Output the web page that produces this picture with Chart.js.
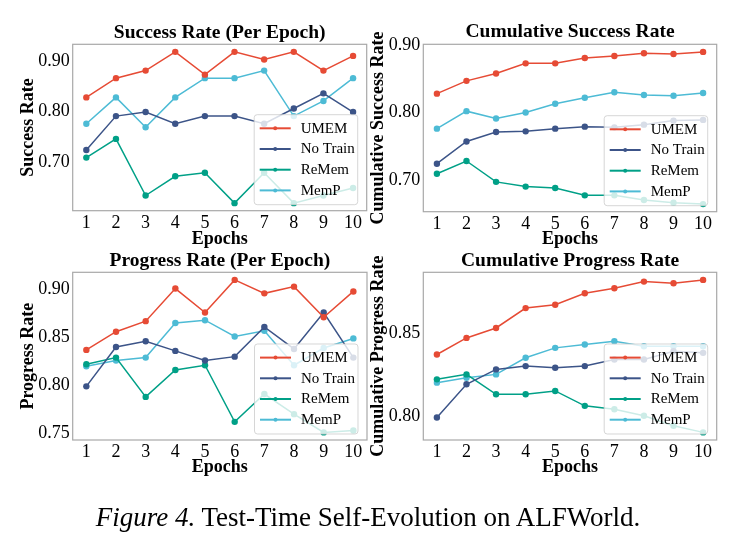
<!DOCTYPE html>
<html><head><meta charset="utf-8">
<script src="https://cdn.jsdelivr.net/npm/chart.js@4.4.1/dist/chart.umd.min.js"></script>
<style>
html,body{margin:0;padding:0;background:#fff;}
#wrap{position:relative;width:736px;height:544px;background:#fff;overflow:hidden;}
#wrap canvas{position:absolute;left:0;top:0;}
#caption{position:absolute;left:0;width:736px;top:504px;text-align:center;font-family:"Liberation Serif","Times New Roman",serif;font-size:27px;line-height:27px;color:#000;white-space:nowrap;}
</style></head><body>
<div id="wrap">
<canvas id="c1" width="736" height="544"></canvas>
<canvas id="c2" width="736" height="544"></canvas>
<canvas id="c3" width="736" height="544"></canvas>
<canvas id="c4" width="736" height="544"></canvas>
<div id="caption"><i>Figure 4.</i> Test-Time Self-Evolution on ALFWorld.</div>
</div>
<script>
// ---- data ----
const epochs = [1, 2, 3, 4, 5, 6, 7, 8, 9, 10];
const seriesNames = ['UMEM', 'No Train', 'ReMem', 'MemP'];

const successUMEM    = [0.828, 0.866, 0.881, 0.918, 0.873, 0.918, 0.903, 0.918, 0.881, 0.910];
const successNoTrain = [0.724, 0.791, 0.799, 0.776, 0.791, 0.791, 0.776, 0.806, 0.836, 0.799];
const successReMem   = [0.709, 0.746, 0.634, 0.672, 0.679, 0.619, 0.679, 0.619, 0.634, 0.649];
const successMemP    = [0.776, 0.828, 0.769, 0.828, 0.866, 0.866, 0.881, 0.791, 0.821, 0.866];

const cumSuccessUMEM    = [0.828, 0.847, 0.858, 0.873, 0.873, 0.881, 0.884, 0.888, 0.887, 0.890];
const cumSuccessNoTrain = [0.724, 0.757, 0.771, 0.772, 0.776, 0.779, 0.778, 0.782, 0.788, 0.789];
const cumSuccessReMem   = [0.709, 0.728, 0.697, 0.690, 0.688, 0.677, 0.677, 0.670, 0.666, 0.664];
const cumSuccessMemP    = [0.776, 0.802, 0.791, 0.800, 0.813, 0.822, 0.830, 0.826, 0.825, 0.829];

const progressUMEM    = [0.837, 0.856, 0.867, 0.901, 0.876, 0.910, 0.896, 0.903, 0.871, 0.898];
const progressNoTrain = [0.799, 0.840, 0.846, 0.836, 0.826, 0.830, 0.861, 0.838, 0.876, 0.829];
const progressReMem   = [0.822, 0.829, 0.788, 0.816, 0.821, 0.762, 0.791, 0.770, 0.751, 0.753];
const progressMemP    = [0.820, 0.826, 0.829, 0.865, 0.868, 0.851, 0.857, 0.821, 0.839, 0.849];

const cumProgressUMEM    = [0.837, 0.847, 0.853, 0.865, 0.867, 0.874, 0.877, 0.881, 0.880, 0.882];
const cumProgressNoTrain = [0.799, 0.819, 0.828, 0.830, 0.829, 0.830, 0.834, 0.834, 0.839, 0.838];
const cumProgressReMem   = [0.822, 0.825, 0.813, 0.813, 0.815, 0.806, 0.804, 0.800, 0.794, 0.790];
const cumProgressMemP    = [0.820, 0.823, 0.825, 0.835, 0.841, 0.843, 0.845, 0.842, 0.842, 0.842];

const successTicks = [0.70, 0.80, 0.90];
const progressTicks = [0.75, 0.80, 0.85, 0.90];
const cumProgressTicks = [0.80, 0.85];

// ---- styling ----
const COLORS = ['#E64B35', '#3C5488', '#00A087', '#4DBBD5'];
const SERIF = '"Liberation Serif", "Times New Roman", serif';
const W = 736, H = 544;

const overlayPlugin = {
  id: 'overlay',
  afterDatasetsDraw(chart) {
    const ctx = chart.ctx, a = chart.chartArea;
    ctx.save();
    ctx.strokeStyle = '#a8a8a8';
    ctx.lineWidth = 1.2;
    ctx.strokeRect(a.left, a.top, a.right - a.left, a.bottom - a.top);
    // legend
    const bx = a.right - 112.5, by = a.bottom - 96, bw = 103.5, bh = 90, r = 3;
    ctx.beginPath();
    ctx.moveTo(bx + r, by);
    ctx.lineTo(bx + bw - r, by); ctx.quadraticCurveTo(bx + bw, by, bx + bw, by + r);
    ctx.lineTo(bx + bw, by + bh - r); ctx.quadraticCurveTo(bx + bw, by + bh, bx + bw - r, by + bh);
    ctx.lineTo(bx + r, by + bh); ctx.quadraticCurveTo(bx, by + bh, bx, by + bh - r);
    ctx.lineTo(bx, by + r); ctx.quadraticCurveTo(bx, by, bx + r, by);
    ctx.closePath();
    ctx.fillStyle = 'rgba(255,255,255,0.8)';
    ctx.fill();
    ctx.strokeStyle = 'rgba(204,204,204,0.8)';
    ctx.lineWidth = 1;
    ctx.stroke();
    chart.data.datasets.forEach((ds, i) => {
      const y = a.bottom - 82.4 + i * 20.7;
      ctx.strokeStyle = ds.borderColor;
      ctx.lineWidth = 2;
      ctx.beginPath();
      ctx.moveTo(a.right - 107, y); ctx.lineTo(a.right - 76, y);
      ctx.stroke();
      ctx.fillStyle = ds.borderColor;
      ctx.beginPath();
      ctx.arc(a.right - 91.5, y, 2, 0, Math.PI * 2);
      ctx.fill();
      ctx.fillStyle = '#000';
      ctx.font = '15px ' + SERIF;
      ctx.textAlign = 'left';
      ctx.textBaseline = 'middle';
      ctx.fillText(ds.label, a.right - 66, y + 0.5);
    });
    ctx.restore();
  }
};

function makePanel(canvasId, title, yTitle, series, yTicks, box) {
  const all = series.flat();
  const lo = Math.min(...all), hi = Math.max(...all);
  const m = (hi - lo) * 0.05;
  const TITLE_SIZE = 19.5, TITLE_LH = TITLE_SIZE * 1.2;
  const AX_LH = 18 * 1.2;
  const padTop = box.titleMid - TITLE_LH / 2;
  const padLeft = box.yTitleX - AX_LH / 2;
  const xBottom = box.xTitleMid + AX_LH / 2;
  new Chart(document.getElementById(canvasId), {
    type: 'line',
    data: {
      datasets: series.map((vals, i) => ({
        label: seriesNames[i],
        data: vals.map((v, j) => ({ x: epochs[j], y: v })),
        borderColor: COLORS[i],
        backgroundColor: COLORS[i],
        pointBackgroundColor: COLORS[i],
        borderWidth: 1.5,
        pointRadius: 3.2,
        pointHoverRadius: 3.2,
        pointBorderWidth: 0,
        tension: 0,
        fill: false
      }))
    },
    options: {
      responsive: false,
      animation: false,
      devicePixelRatio: 1,
      events: [],
      layout: { padding: { left: padLeft, right: W - box.R, top: padTop, bottom: H - xBottom } },
      plugins: {
        legend: { display: false },
        tooltip: { enabled: false },
        title: {
          display: true, text: title, fullSize: false, color: '#000',
          font: { family: SERIF, size: TITLE_SIZE, weight: 'bold', lineHeight: 1.2 },
          padding: { top: 0, bottom: box.T - padTop - TITLE_LH }
        }
      },
      scales: {
        x: {
          type: 'linear', min: 0.54, max: 10.46,
          afterBuildTicks: s => { s.ticks = epochs.map(v => ({ value: v })); },
          afterFit: s => { s.height = xBottom - box.B; },
          grid: { display: false, drawTicks: false },
          border: { display: false },
          ticks: { color: '#000', font: { family: SERIF, size: 18 }, padding: 1.5, autoSkip: false, maxRotation: 0, callback: v => String(v) },
          title: { display: true, text: 'Epochs', color: '#000', font: { family: SERIF, size: 18, weight: 'bold', lineHeight: 1.2 }, padding: 0 }
        },
        y: {
          type: 'linear', min: lo - m, max: hi + m,
          afterBuildTicks: s => { s.ticks = yTicks.map(v => ({ value: v })); },
          afterFit: s => { s.width = box.L - padLeft; },
          grid: { display: false, drawTicks: false },
          border: { display: false },
          ticks: { color: '#000', font: { family: SERIF, size: 18 }, padding: 3, callback: v => Number(v).toFixed(2) },
          title: { display: true, text: yTitle, color: '#000', font: { family: SERIF, size: 18, weight: 'bold', lineHeight: 1.2 }, padding: 0 }
        }
      }
    },
    plugins: [overlayPlugin]
  });
}

makePanel('c1', 'Success Rate (Per Epoch)', 'Success Rate',
  [successUMEM, successNoTrain, successReMem, successMemP], successTicks,
  { L: 72.7, R: 366.7, T: 44.3, B: 210.7, yTitleX: 28.3, titleMid: 32.6, xTitleMid: 239.2 });

makePanel('c2', 'Cumulative Success Rate', 'Cumulative Success Rate',
  [cumSuccessUMEM, cumSuccessNoTrain, cumSuccessReMem, cumSuccessMemP], successTicks,
  { L: 423.3, R: 716.7, T: 44.3, B: 211.7, yTitleX: 378.3, titleMid: 32.2, xTitleMid: 239.2 });

makePanel('c3', 'Progress Rate (Per Epoch)', 'Progress Rate',
  [progressUMEM, progressNoTrain, progressReMem, progressMemP], progressTicks,
  { L: 72.7, R: 367, T: 272.3, B: 440, yTitleX: 28.2, titleMid: 260.7, xTitleMid: 467.8 });

makePanel('c4', 'Cumulative Progress Rate', 'Cumulative Progress Rate',
  [cumProgressUMEM, cumProgressNoTrain, cumProgressReMem, cumProgressMemP], cumProgressTicks,
  { L: 423.3, R: 716.7, T: 272.3, B: 440, yTitleX: 378.3, titleMid: 260.7, xTitleMid: 467.8 });
</script>
</body></html>
